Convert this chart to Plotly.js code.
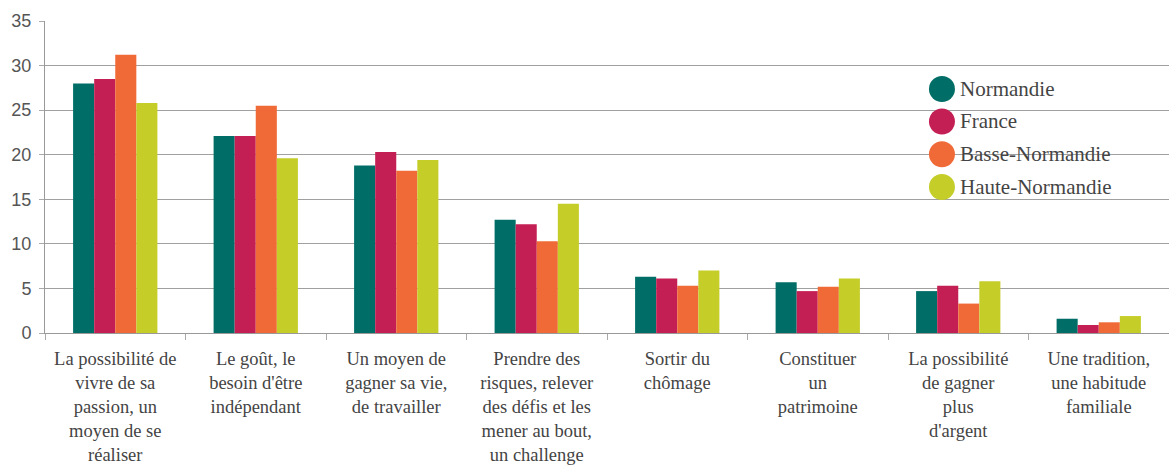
<!DOCTYPE html>
<html><head><meta charset="utf-8">
<script src="https://cdn.plot.ly/plotly-3.0.1.min.js"></script>
<style>html,body{margin:0;padding:0;background:#fff}#chart{width:1169px;height:467px}</style>
</head><body><div id="chart"></div>
<script>
const categories = [
  "La possibilité de<br>vivre de sa<br>passion, un<br>moyen de se<br>réaliser",
  "Le goût, le<br>besoin d'être<br>indépendant",
  "Un moyen de<br>gagner sa vie,<br>de travailler",
  "Prendre des<br>risques, relever<br>des défis et les<br>mener au bout,<br>un challenge",
  "Sortir du<br>chômage",
  "Constituer<br>un<br>patrimoine",
  "La possibilité<br>de gagner<br>plus<br>d'argent",
  "Une tradition,<br>une habitude<br>familiale"
];
const seriesNames = ["Normandie", "France", "Basse-Normandie", "Haute-Normandie"];
const normandie = [28.0, 22.1, 18.8, 12.7, 6.3, 5.7, 4.7, 1.6];
const france = [28.5, 22.1, 20.3, 12.2, 6.1, 4.7, 5.3, 0.9];
const basseNormandie = [31.2, 25.5, 18.2, 10.3, 5.3, 5.2, 3.3, 1.2];
const hauteNormandie = [25.8, 19.6, 19.4, 14.5, 7.0, 6.1, 5.8, 1.9];
const yTicks = [0, 5, 10, 15, 20, 25, 30, 35];

const colors = ["#006d66", "#c41f55", "#f06a37", "#c5cd29"];
const values = [normandie, france, basseNormandie, hauteNormandie];

const traces = values.map((v, i) => ({
  type: "bar", x: categories, y: v, name: seriesNames[i],
  marker: {color: colors[i]}, showlegend: false, hoverinfo: "y"
}));

// legend drawn as circles + labels
const legX = 0.798, legTextX = 0.8125;
const legY = [0.782, 0.678, 0.573, 0.468];
const shapes = [], annotations = [];
seriesNames.forEach((n, i) => {
  shapes.push({type: "circle", xref: "paper", yref: "paper",
    xsizemode: "pixel", ysizemode: "pixel", xanchor: legX, yanchor: legY[i],
    x0: -13, x1: 13, y0: -13, y1: 13, fillcolor: colors[i], line: {width: 0}});
  annotations.push({xref: "paper", yref: "paper", x: legTextX, y: legY[i],
    xanchor: "left", yanchor: "middle", showarrow: false, text: n,
    font: {family: "Liberation Serif, serif", size: 21, color: "#444"}});
});

const layout = {
  width: 1169, height: 467,
  margin: {l: 45, r: 0, t: 21, b: 134},
  paper_bgcolor: "#fff", plot_bgcolor: "#fff",
  barmode: "group", bargap: 0.4, bargroupgap: 0,
  showlegend: false,
  font: {family: "Liberation Sans, Arial, sans-serif", color: "#444"},
  xaxis: {
    type: "category", showgrid: false, showline: true, linecolor: "#999", linewidth: 1,
    ticks: "outside", tickson: "boundaries", ticklen: 6, tickcolor: "#aaa",
    tickfont: {family: "Liberation Serif, serif", size: 18.5, color: "#444"},
    ticklabelstandoff: 9, tickangle: 0, automargin: false
  },
  yaxis: {
    range: [0, 35], tickvals: yTicks, ticktext: yTicks.map(String),
    showgrid: true, gridcolor: "#a0a0a0", gridwidth: 1,
    showline: true, linecolor: "#999", linewidth: 1,
    ticks: "outside", ticklen: 5, tickcolor: "#aaa",
    tickfont: {family: "Liberation Sans, Arial, sans-serif", size: 18, color: "#555"},
    ticklabelstandoff: 4, zeroline: false, automargin: false
  },
  shapes: shapes,
  annotations: annotations
};

Plotly.newPlot("chart", traces, layout, {displayModeBar: false, staticPlot: true});
</script>
</body></html>
